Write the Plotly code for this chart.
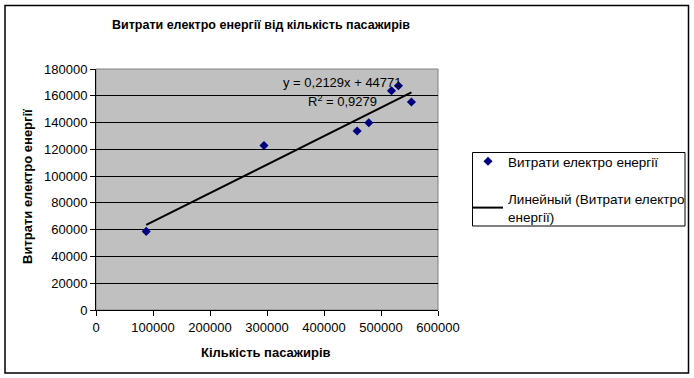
import plotly.graph_objects as go

# Data
passengers = [88100, 294700, 458100, 478600, 518400, 530600, 553400]
energy = [58700, 122900, 133700, 139900, 163800, 167500, 155400]
slope = 0.2129
intercept = 44771
r2_text = "0,9279"

series_name = "Витрати електро енергії"
trend_name = "Линейный (Витрати електро<br>енергії)"
title_text = "Витрати електро енергії від кількість пасажирів"
x_title = "Кількість пасажирів"
y_title = "Витрати електро енергії"

W, H = 694, 378
L, R, T, B = 96, 256, 69, 68
pw, ph = W - L - R, H - T - B

def px_x(p):
    return (p - L) / pw

def px_y(p):
    return (H - B - p) / ph

font_family = "Liberation Sans, Arial, sans-serif"

tx = [min(passengers), max(passengers)]
ty = [slope * v + intercept for v in tx]

fig = go.Figure()
fig.add_trace(go.Scatter(
    x=passengers, y=energy, mode="markers", name=series_name,
    marker=dict(symbol="diamond", color="#000080", size=7, line=dict(width=0)),
    legendgroup="a",
))
fig.add_trace(go.Scatter(
    x=tx, y=ty, mode="lines", name=trend_name,
    line=dict(color="black", width=2), legendgroup="b",
))

fig.update_layout(
    template="none",
    width=W, height=H,
    margin=dict(l=L, r=R, t=T, b=B, pad=0, autoexpand=False),
    paper_bgcolor="white",
    plot_bgcolor="#C0C0C0",
    font=dict(family=font_family, size=13, color="black"),
    title=dict(
        text="<b>" + title_text + "</b>",
        x=261 / W, xanchor="center", xref="container",
        y=1 - 25 / H, yanchor="middle", yref="container",
        font=dict(family=font_family, size=12.5, color="black"),
    ),
    xaxis=dict(
        range=[0, 600000], dtick=100000, tick0=0, automargin=False,
        showgrid=False, zeroline=False,
        showline=True, linecolor="black", linewidth=1,
        ticks="outside", ticklen=5, tickcolor="black",
        tickformat="d", tickfont=dict(size=13),
    ),
    yaxis=dict(
        range=[0, 180000], dtick=20000, tick0=0, automargin=False,
        showgrid=True, gridcolor="black", gridwidth=1,
        zeroline=False,
        showline=True, linecolor="black", linewidth=1,
        ticks="outside", ticklen=5, tickcolor="black",
        tickformat="d", tickfont=dict(size=13),
    ),
    legend=dict(
        xref="container", yref="container",
        x=468 / W, y=1 - 146 / H, xanchor="left", yanchor="top",
        borderwidth=0, bgcolor="rgba(0,0,0,0)",
        font=dict(size=13.5), traceorder="grouped", tracegroupgap=17,
        itemwidth=30,
    ),
    showlegend=True,
)

# plot area border (grey)
fig.add_shape(type="rect", xref="paper", yref="paper", x0=0, x1=1, y0=0, y1=1,
              line=dict(color="#808080", width=1), fillcolor="rgba(0,0,0,0)", layer="below")
# legend box
fig.add_shape(type="rect", xref="paper", yref="paper",
              x0=px_x(472.5), x1=px_x(685), y0=px_y(226), y1=px_y(152.5),
              line=dict(color="black", width=1), fillcolor="rgba(0,0,0,0)")
# outer chart border
fig.add_shape(type="rect", xref="paper", yref="paper",
              x0=px_x(5), x1=px_x(688.5), y0=px_y(373), y1=px_y(5.5),
              line=dict(color="black", width=1.5), fillcolor="rgba(0,0,0,0)")

# equation annotations
fig.add_annotation(xref="paper", yref="paper", x=px_x(342), y=px_y(82.5),
                   text="y = 0,2129x + 44771", showarrow=False,
                   xanchor="center", yanchor="middle", font=dict(size=13))
fig.add_annotation(xref="paper", yref="paper", x=px_x(342), y=px_y(100.5),
                   text="R<sup>2</sup> = " + r2_text, showarrow=False,
                   xanchor="center", yanchor="middle", font=dict(size=13))
# axis titles
fig.add_annotation(xref="paper", yref="paper", x=px_x(266), y=px_y(352),
                   text="<b>" + x_title + "</b>", showarrow=False,
                   xanchor="center", yanchor="middle", font=dict(size=13))
fig.add_annotation(xref="paper", yref="paper", x=px_x(27), y=px_y(187),
                   text="<b>" + y_title + "</b>", showarrow=False, textangle=-90,
                   xanchor="center", yanchor="middle", font=dict(size=13))

fig.write_html("out.html", config={"displayModeBar": False},
               post_script="document.body.style.margin='0';")
